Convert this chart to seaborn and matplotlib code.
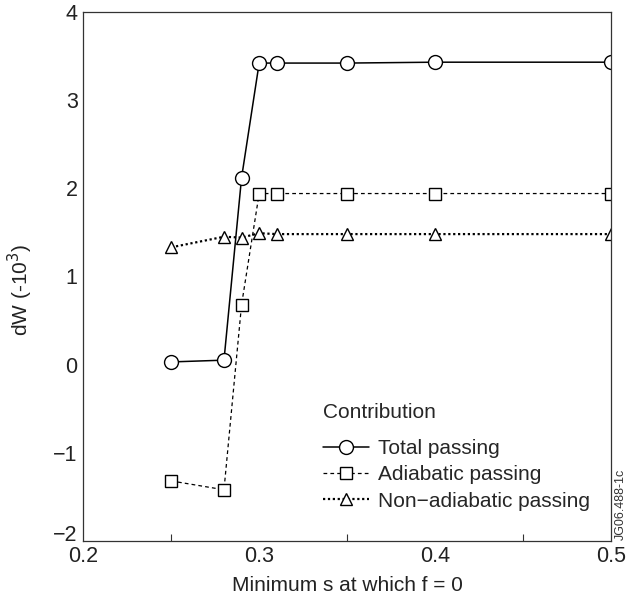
import numpy as np
import pandas as pd
import matplotlib
matplotlib.use('Agg')
import matplotlib.pyplot as plt
import matplotlib.transforms as mtransforms
import seaborn as sns
from matplotlib.ticker import MultipleLocator

# values
s_min = [0.25, 0.28, 0.29, 0.30, 0.31, 0.35, 0.40, 0.50]
total_passing = [0.03, 0.05, 2.12, 3.42, 3.42, 3.42, 3.43, 3.43]
adiabatic_passing = [-1.32, -1.42, 0.68, 1.94, 1.94, 1.94, 1.94, 1.94]
nonadiabatic_passing = [1.33, 1.45, 1.44, 1.49, 1.48, 1.48, 1.48, 1.48]

series_names = ['Total passing', 'Adiabatic passing', 'Non\u2212adiabatic passing']
series_values = [total_passing, adiabatic_passing, nonadiabatic_passing]
series_markers = ['o', 's', '^']
series_lines = ['-', (0, (3, 2.5)), (0, (1, 1.2))]
series_widths = [1.1, 0.9, 1.6]

x_ticks = [0.2, 0.3, 0.4, 0.5]
y_ticks = [-2, -1, 0, 1, 2, 3, 4]

sns.set_style('white')
plt.rcParams['font.family'] = ['Liberation Sans', 'DejaVu Sans']

fig = plt.figure(figsize=(6.26, 5.97), dpi=100)
ax = fig.add_axes([0.133, 0.094, 0.843, 0.886])

for name, vals, mk, ls, lw in zip(series_names, series_values, series_markers,
                                  series_lines, series_widths):
    df = pd.DataFrame({'s': s_min, 'dW': vals})
    sns.lineplot(data=df, x='s', y='dW', ax=ax, color='black', marker=mk,
                 linestyle=ls, linewidth=lw, markersize=10 if mk == 'o' else 9,
                 markerfacecolor='white', markeredgecolor='black',
                 markeredgewidth=1.0, label=name)

ax.set_xlim(0.2, 0.5)
ax.set_ylim(-2, 4)
ax.set_xticks(x_ticks, [f'{v:.1f}' for v in x_ticks])
ax.xaxis.set_minor_locator(MultipleLocator(0.05))
ax.set_yticks(y_ticks, [str(v).replace('-', '\u2212') for v in y_ticks])
ax.tick_params(axis='both', which='major', direction='in', length=9,
               width=0.8, labelsize=15.5, colors='#333333', labelcolor='#222222')
ax.tick_params(axis='x', which='minor', direction='in', length=5, width=0.8,
               colors='#333333', bottom=True)
ax.tick_params(axis='y', pad=4)
ax.tick_params(axis='x', pad=4)
ax.tick_params(top=False, right=False)

# the lowest y label sits just above the axis line, as in the reference
low = ax.yaxis.get_major_ticks()[0].label1
low.set_transform(low.get_transform() +
                  mtransforms.ScaledTranslation(0, 7.5 / 100, fig.dpi_scale_trans))

for sp in ax.spines.values():
    sp.set_visible(True)
    sp.set_color('#333333')
    sp.set_linewidth(0.9)

ax.set_xlabel('Minimum s at which f = 0', fontsize=15, color='#222222', labelpad=6)
ax.set_ylabel('dW (-10$^3$)', fontsize=15, color='#222222')
ax.yaxis.set_label_coords(-0.092, 0.475)

leg = ax.legend(title='Contribution', loc='upper left',
                bbox_to_anchor=(0.455, 0.26), frameon=False, fontsize=15,
                title_fontsize=15, handlelength=2.2, labelspacing=0.35,
                handletextpad=0.4, borderaxespad=0, borderpad=0)
leg._legend_box.align = 'left'
leg._legend_box.sep = 12

fig.text(0.992, 0.155, 'JG06.488-1c', rotation=90, fontsize=9,
         color='#333333', ha='center', va='center')

fig.savefig('out.png', dpi=100)
